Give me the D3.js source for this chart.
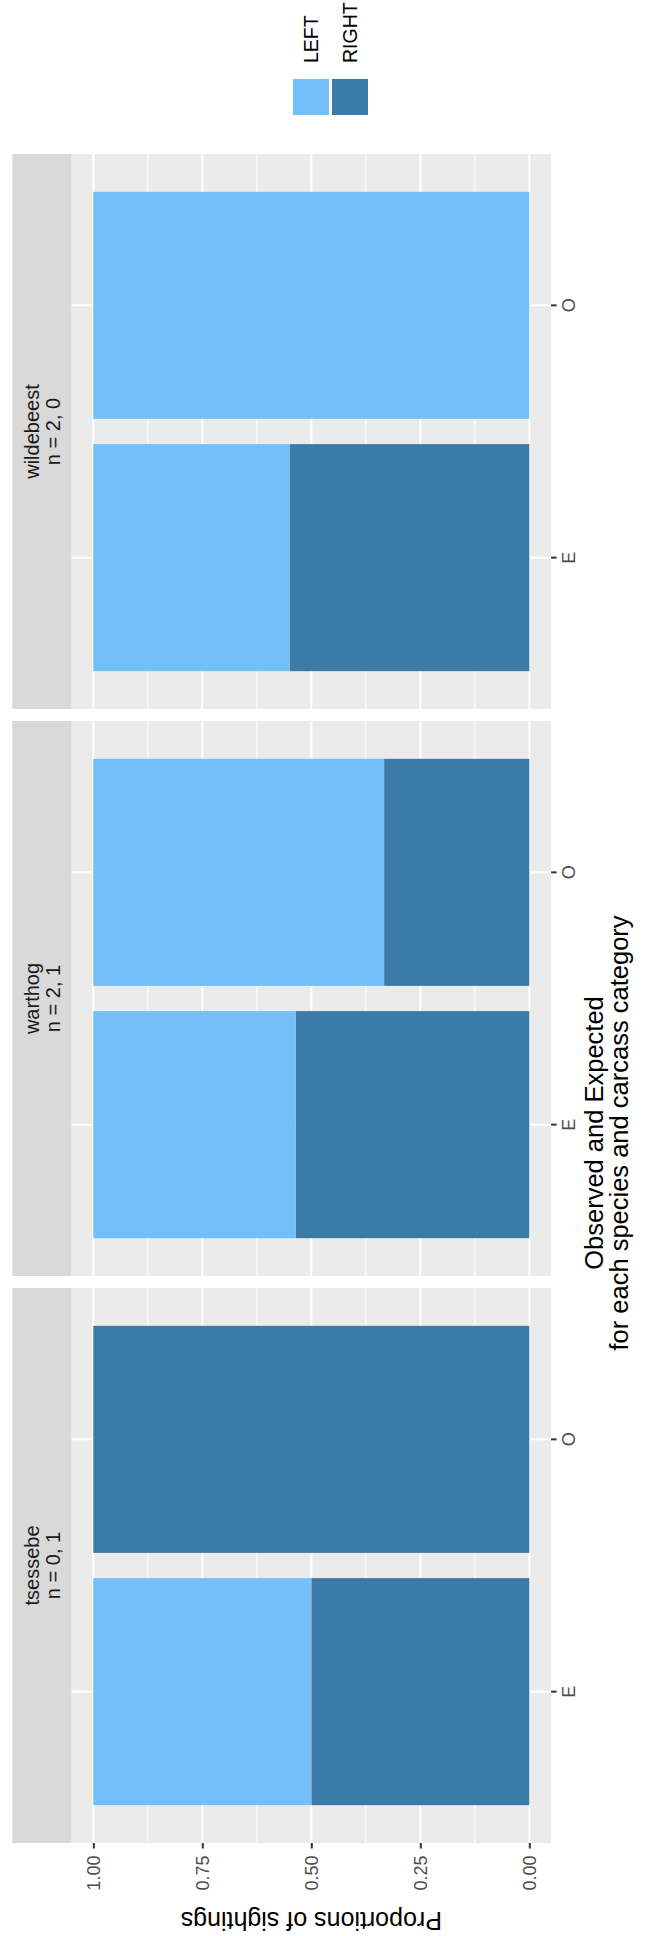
<!DOCTYPE html>
<html>
<head>
<meta charset="utf-8">
<script src="https://cdn.jsdelivr.net/npm/d3@7"></script>
<style>
  html, body { margin: 0; padding: 0; background: #ffffff; }
  svg { display: block; font-family: "Liberation Sans", Arial, Helvetica, sans-serif; }
</style>
</head>
<body>
<svg id="chart" width="661" height="1936"></svg>
<script>
// ---------- data ----------
const species = ["tsessebe", "warthog", "wildebeest"];
const stripCounts = ["n = 0, 1", "n = 2, 1", "n = 2, 0"];
const categories = ["E", "O"];
const sides = ["LEFT", "RIGHT"];
// proportions per species (same order as species)
const leftExpected = [0.50, 0.464, 0.45];
const rightExpected = [0.50, 0.536, 0.55];
const leftObserved = [0.0, 0.667, 1.0];
const rightObserved = [1.0, 0.333, 0.0];
const valueTicks = [0, 0.25, 0.5, 0.75, 1];
const valueTickLabels = ["0.00", "0.25", "0.50", "0.75", "1.00"];
const minorTicks = [0.125, 0.375, 0.625, 0.875];
const xTitleLines = ["Observed and Expected", "for each species and carcass category"];
const yTitle = "Proportions of sightings";
const colors = { LEFT: "#73bff9", RIGHT: "#3c7ba7" };

// ---------- layout (drawn in the original landscape orientation, then rotated) ----------
const W = 1936; // original width (becomes page height)
const svg = d3.select("#chart");
const root = svg.append("g").attr("transform", `translate(0,${W}) rotate(-90)`);

const panelLen = 555, panelGap = 12, panelStart = 93;
const y = d3.scaleLinear().domain([0, 1]).range([529.3, 93.3]);
const panelTop = y(1.05), panelBottom = y(-0.05);
const stripTop = 12.3;

const rows = species.map((s, i) => ({
  species: s,
  n: stripCounts[i],
  bars: [
    { cat: "E", RIGHT: rightExpected[i], LEFT: leftExpected[i] },
    { cat: "O", RIGHT: rightObserved[i], LEFT: leftObserved[i] }
  ]
}));

const stack = d3.stack().keys(["RIGHT", "LEFT"]);

rows.forEach((row, i) => {
  const x0 = panelStart + i * (panelLen + panelGap);
  const x = d3.scaleBand().domain(categories).range([x0, x0 + panelLen])
    .paddingInner(0.1).paddingOuter(0.15);
  const g = root.append("g");

  // panel background
  g.append("rect").attr("x", x0).attr("y", panelTop)
    .attr("width", panelLen).attr("height", panelBottom - panelTop)
    .attr("fill", "#ebebeb");

  // minor grid
  g.selectAll(".minor").data(minorTicks).enter().append("line")
    .attr("x1", x0).attr("x2", x0 + panelLen)
    .attr("y1", d => y(d)).attr("y2", d => y(d))
    .attr("stroke", "#ffffff").attr("stroke-width", 1);
  // major grid
  g.selectAll(".major").data(valueTicks).enter().append("line")
    .attr("x1", x0).attr("x2", x0 + panelLen)
    .attr("y1", d => y(d)).attr("y2", d => y(d))
    .attr("stroke", "#ffffff").attr("stroke-width", 2);
  g.selectAll(".catgrid").data(categories).enter().append("line")
    .attr("x1", d => x(d) + x.bandwidth() / 2).attr("x2", d => x(d) + x.bandwidth() / 2)
    .attr("y1", panelTop).attr("y2", panelBottom)
    .attr("stroke", "#ffffff").attr("stroke-width", 2);

  // stacked bars
  const series = stack(row.bars);
  series.forEach(ser => {
    g.selectAll(null).data(ser).enter().append("rect")
      .attr("x", d => x(d.data.cat))
      .attr("width", x.bandwidth())
      .attr("y", d => y(d[1]))
      .attr("height", d => Math.max(0, y(d[0]) - y(d[1])))
      .attr("fill", colors[ser.key]);
  });

  // strip
  g.append("rect").attr("x", x0).attr("y", stripTop)
    .attr("width", panelLen).attr("height", panelTop - stripTop)
    .attr("fill", "#d9d9d9");
  const st = g.append("text").attr("x", x0 + panelLen / 2)
    .attr("text-anchor", "middle").attr("font-size", 20).attr("fill", "#1a1a1a");
  st.append("tspan").attr("x", x0 + panelLen / 2).attr("y", 38.5).text(row.species);
  st.append("tspan").attr("x", x0 + panelLen / 2).attr("y", 60).text(row.n);

  // category axis
  const ax = g.append("g").attr("transform", `translate(0,${panelBottom})`)
    .call(d3.axisBottom(x).tickSize(5.5).tickPadding(5.5));
  ax.select(".domain").remove();
  ax.selectAll(".tick line").attr("stroke", "#333333").attr("stroke-width", 2);
  ax.selectAll(".tick text").attr("font-size", 18).attr("fill", "#4d4d4d")
    .attr("font-family", "Liberation Sans, Arial, sans-serif");
});

// value axis (left of first panel)
const yAxis = root.append("g").attr("transform", `translate(${panelStart},0)`)
  .call(d3.axisLeft(y).tickValues(valueTicks)
    .tickFormat((d, i) => valueTickLabels[i]).tickSize(5.5).tickPadding(7));
yAxis.select(".domain").remove();
yAxis.selectAll(".tick line").attr("stroke", "#333333").attr("stroke-width", 2);
yAxis.selectAll(".tick text").attr("font-size", 18).attr("fill", "#4d4d4d")
  .attr("font-family", "Liberation Sans, Arial, sans-serif");

// y title
root.append("text")
  .attr("transform", `translate(24,${(panelTop + panelBottom) / 2}) rotate(-90)`)
  .attr("text-anchor", "middle").attr("font-size", 25).attr("fill", "#000")
  .text(yTitle);

// x title
const titleCenter = 803;
const xt = root.append("text").attr("text-anchor", "middle")
  .attr("font-size", 25.5).attr("fill", "#000");
xTitleLines.forEach((t, i) => {
  xt.append("tspan").attr("x", titleCenter).attr("y", 603 + i * 25).text(t);
});

// legend
const keyX = 1821, keySize = 36;
const keyY = { LEFT: 293, RIGHT: 332 };
sides.forEach(s => {
  root.append("rect").attr("x", keyX).attr("y", keyY[s])
    .attr("width", keySize).attr("height", keySize).attr("fill", colors[s]);
  root.append("text").attr("x", 1873).attr("y", keyY[s] + keySize / 2)
    .attr("dy", "0.36em").attr("font-size", 19.5).attr("fill", "#000").text(s);
});
</script>
</body>
</html>
